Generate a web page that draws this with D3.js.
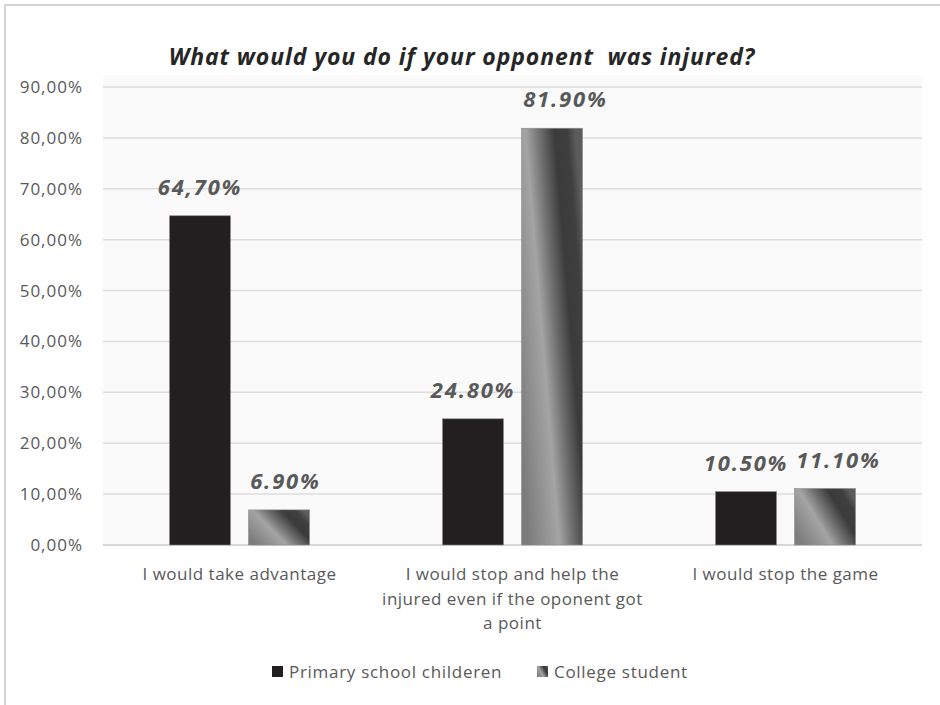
<!DOCTYPE html>
<html>
<head>
<meta charset="utf-8">
<script src="https://cdn.jsdelivr.net/npm/d3@7"></script>
<style>
  body { margin: 0; background: #fff; }
  text { font-family: "Open Sans", sans-serif; }
</style>
</head>
<body>
<div id="chart"></div>
<script>
"use strict";
// chart data
var categories = [
    "I would take advantage",
    "I would stop and help the\ninjured even if the oponent got\na point",
    "I would stop the game"
];
var seriesNames = ["Primary school childeren", "College student"];
var primaryValues = [64.7, 24.8, 10.5];
var collegeValues = [6.9, 81.9, 11.1];
var primaryLabels = ["64,70%", "24.80%", "10.50%"];
var collegeLabels = ["6.90%", "81.90%", "11.10%"];
var yTicks = [0, 10, 20, 30, 40, 50, 60, 70, 80, 90];
var title = "What would you do if your opponent\u00a0 was injured?";

var width = 940, height = 705;
var margin = { top: 87, right: 18, bottom: 160, left: 103 };

var svg = d3.select("#chart").append("svg")
    .attr("width", width)
    .attr("height", height);

var defs = svg.append("defs");
var grad = defs.append("linearGradient")
    .attr("id", "collegeGrad")
    .attr("x1", 0).attr("y1", 0.78)
    .attr("x2", 1).attr("y2", 0.22);
[[0, "#7c7c7c"], [0.38, "#a4a4a4"], [0.55, "#707070"], [0.74, "#3b3b3b"], [0.9, "#3f3f3f"], [1, "#5c5c5c"]]
    .forEach(function (s) {
        grad.append("stop").attr("offset", s[0]).attr("stop-color", s[1]);
    });

// frame
svg.append("path")
    .attr("d", "M5,705V5H940")
    .attr("fill", "none")
    .attr("stroke", "#d4d4d4")
    .attr("stroke-width", 2);

var x0 = d3.scaleBand()
    .domain(categories)
    .range([margin.left, width - margin.right])
    .paddingInner(0.487)
    .paddingOuter(0.2435);
var x1 = d3.scaleBand()
    .domain(seriesNames)
    .range([0, x0.bandwidth()])
    .paddingInner(0.228);
var y = d3.scaleLinear()
    .domain([0, 90])
    .range([height - margin.bottom, margin.top]);

// plot area background
svg.append("rect")
    .attr("x", margin.left)
    .attr("y", 75)
    .attr("width", width - margin.right - margin.left)
    .attr("height", y(0) - 75)
    .attr("fill", "#fafafa");

// gridlines
svg.append("g")
    .selectAll("line")
    .data(yTicks)
    .enter().append("line")
    .attr("x1", margin.left)
    .attr("x2", width - margin.right)
    .attr("y1", function (d) { return y(d); })
    .attr("y2", function (d) { return y(d); })
    .attr("stroke", function (d) { return d === 0 ? "#c9c9c9" : "#dcdcdc"; })
    .attr("stroke-width", 1.5);

// y axis labels
var fmt = d3.formatLocale({ decimal: ",", thousands: ".", grouping: [3], currency: ["", ""] }).format(".2f");
var yAxis = d3.axisLeft(y)
    .tickValues(yTicks)
    .tickSize(0)
    .tickPadding(20)
    .tickFormat(function (d) { return fmt(d) + "%"; });
var yg = svg.append("g")
    .attr("transform", "translate(" + margin.left + ",0)")
    .call(yAxis);
yg.select(".domain").remove();
yg.selectAll("text")
    .style("font-family", "'Open Sans', sans-serif")
    .style("font-size", "17px")
    .style("letter-spacing", "1px")
    .attr("fill", "#595959");

// bars
var rows = categories.map(function (c, i) {
    return [
        { cat: c, series: seriesNames[0], value: primaryValues[i], label: primaryLabels[i] },
        { cat: c, series: seriesNames[1], value: collegeValues[i], label: collegeLabels[i] }
    ];
});
var fills = { "Primary school childeren": "#231f20", "College student": "url(#collegeGrad)" };

var groups = svg.append("g").selectAll("g")
    .data(rows)
    .enter().append("g")
    .attr("transform", function (d) { return "translate(" + x0(d[0].cat) + ",0)"; });

groups.selectAll("rect")
    .data(function (d) { return d; })
    .enter().append("rect")
    .attr("x", function (d) { return x1(d.series); })
    .attr("y", function (d) { return y(d.value); })
    .attr("width", x1.bandwidth())
    .attr("height", function (d) { return y(0) - y(d.value); })
    .attr("fill", function (d) { return fills[d.series]; })
    .attr("stroke", "#8c8c8c")
    .attr("stroke-width", 0.6);

// value labels
var labels = groups.selectAll("text.val")
    .data(function (d) { return d; })
    .enter().append("text")
    .attr("class", "val")
    .attr("x", function (d) { return x1(d.series) + x1.bandwidth() / 2; })
    .attr("y", function (d) { return y(d.value) - 21; })
    .attr("text-anchor", "middle")
    .style("font-family", "'Open Sans', sans-serif")
    .style("font-weight", "bold")
    .style("font-style", "italic")
    .style("font-size", "22px")
    .style("letter-spacing", "1.8px")
    .attr("fill", "#595959")
    .text(function (d) { return d.label; });

// push apart labels that would overlap inside a group
groups.each(function () {
    var t = d3.select(this).selectAll("text.val").nodes();
    var a = t[0].getBBox(), b = t[1].getBBox();
    var overlap = a.x + a.width + 8 - b.x;
    if (overlap > 0) {
        d3.select(t[1]).attr("x", +d3.select(t[1]).attr("x") + overlap);
    }
});

// category labels
var catLabels = svg.append("g").selectAll("text")
    .data(categories)
    .enter().append("text")
    .attr("x", function (d) { return x0(d) + x0.bandwidth() / 2; })
    .attr("y", y(0) + 35)
    .attr("text-anchor", "middle")
    .style("font-size", "17px")
    .style("letter-spacing", "0.5px")
    .attr("fill", "#595959");
catLabels.selectAll("tspan")
    .data(function (d) { return d.split("\n"); })
    .enter().append("tspan")
    .attr("x", function () { return d3.select(this.parentNode).attr("x"); })
    .attr("dy", function (d, i) { return i === 0 ? 0 : 24.5; })
    .text(function (d) { return d; });

// title
svg.append("text")
    .attr("x", 462)
    .attr("y", 65)
    .attr("text-anchor", "middle")
    .style("font-family", "'Open Sans', sans-serif")
    .style("font-weight", "bold")
    .style("font-style", "italic")
    .style("font-size", "23px")
    .style("letter-spacing", "0.9px")
    .attr("fill", "#262626")
    .text(title);

// legend
var legend = svg.append("g").attr("transform", "translate(272,672)");
var items = legend.selectAll("g")
    .data(seriesNames)
    .enter().append("g")
    .attr("transform", function (d, i) { return "translate(" + (i * 265) + ",0)"; });
items.append("rect")
    .attr("x", 0).attr("y", -6)
    .attr("width", 11).attr("height", 11)
    .attr("fill", function (d) { return fills[d]; });
items.append("text")
    .attr("x", 17)
    .attr("y", 6)
    .style("font-size", "17px")
    .style("letter-spacing", "0.7px")
    .attr("fill", "#595959")
    .text(function (d) { return d; });
</script>
</body>
</html>
